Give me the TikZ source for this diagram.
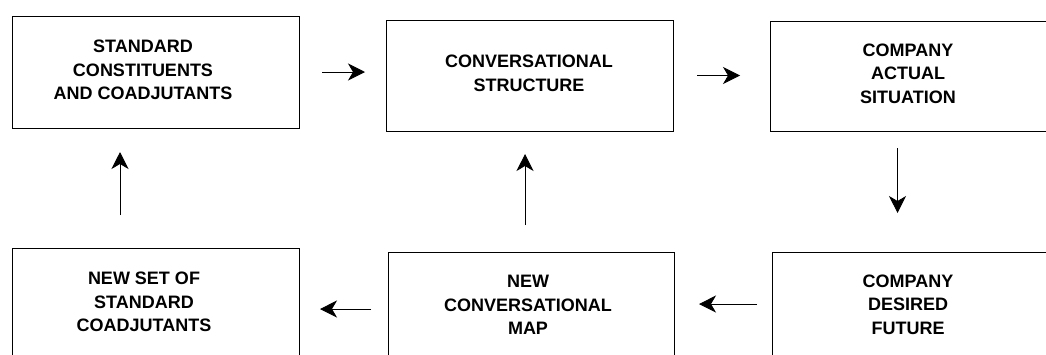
\documentclass[tikz,border=0pt]{standalone}
\usepackage{fontspec}
\setmainfont{Liberation Sans}
\usetikzlibrary{arrows.meta}
\begin{document}
\begin{tikzpicture}[x=1pt,y=-1pt,
  boxnode/.style={draw=black,line width=0.9pt,inner sep=0pt,outer sep=0pt,
    anchor=north west,minimum width=287pt,minimum height=112pt},
  label/.style={align=center,inner sep=0pt,
    font=\fontsize{18}{23.5}\selectfont\bfseries},
  arr/.style={line width=0.9pt,-{Stealth[length=17pt,width=17pt,inset=5pt]}}]
\useasboundingbox (0,0) rectangle (1046,354);
\clip (0,0) rectangle (1046,354);
% top row
\node[boxnode] (b1) at (12,16) {};
\node[boxnode,minimum height=111pt] (b2) at (386,20) {};
\node[boxnode,minimum height=110pt] (b3) at (770,21) {};
% bottom row
\node[boxnode] (b4) at (12,248) {};
\node[boxnode,minimum width=286pt] (b5) at (388,252) {};
\node[boxnode] (b6) at (772,252) {};
% box texts
\node[label] (t1) at (143,70) {STANDARD\\CONSTITUENTS\\AND COADJUTANTS};
\node[label] (t2) at (529,73.5) {CONVERSATIONAL\\STRUCTURE};
\node[label] (t3) at (908,73.5) {COMPANY\\ACTUAL\\SITUATION};
\node[label] (t4) at (144,302) {NEW SET OF\\STANDARD\\COADJUTANTS};
\node[label] (t5) at (528,305) {NEW\\CONVERSATIONAL\\MAP};
\node[label] (t6) at (908,304.5) {COMPANY\\DESIRED\\FUTURE};
% flow arrows
\draw[arr,shorten <=23pt,shorten >=21pt] (b1.east) -- (b1.east -| b2.west);
\draw[arr,shorten <=24pt,shorten >=30pt] (b2.east) -- (b2.east -| b3.west);
\draw[arr,shorten <=17pt,shorten >=39pt] ([xshift=-16pt]b3.south) -- ([xshift=-16pt]b3.south |- b6.north);
\draw[arr,shorten <=15pt,shorten >=25pt] ([yshift=4pt]b6.west) -- ([yshift=4pt]b6.west -| b5.east);
\draw[arr,shorten <=17pt,shorten >=21pt] ([yshift=-1pt]b5.west) -- ([yshift=-1pt]b5.west -| b4.east);
\draw[arr,shorten <=27pt,shorten >=23pt] ([xshift=-6pt]b5.north) -- ([xshift=-6pt]b5.north |- b2.south);
\draw[arr,shorten <=33pt,shorten >=24pt] ([xshift=-35.5pt]b4.north) -- ([xshift=-35.5pt]b4.north |- b1.south);
\end{tikzpicture}
\end{document}
